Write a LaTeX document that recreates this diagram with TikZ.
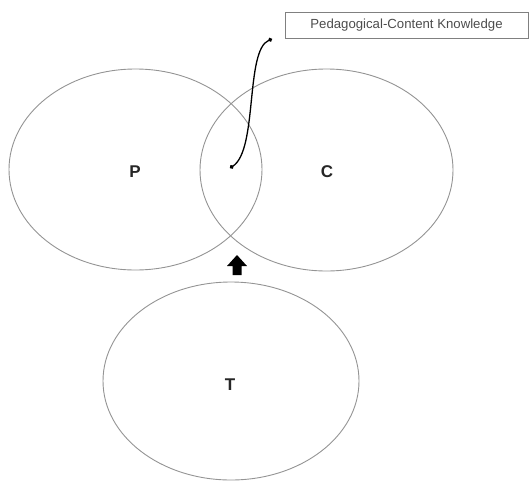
\documentclass[tikz,border=0pt]{standalone}
\usepackage{fontspec}
\setmainfont{Liberation Sans}
\usetikzlibrary{arrows.meta}
\begin{document}
\begin{tikzpicture}[x=1pt,y=-1pt,
  circ/.style={draw=black!42,line width=0.9pt},
  lbl/.style={font=\fontsize{17}{17}\selectfont\bfseries,text=black!85},
  pck/.style={draw=black!50,line width=0.6pt,minimum width=243pt,minimum height=26pt,inner sep=0pt,font=\fontsize{13.2}{14}\selectfont,text=black!70},
  link/.style={line width=1.3pt,{Circle[length=4pt]}-{Circle[length=4pt]}}]
\useasboundingbox (0,0) rectangle (529,482);
\draw[circ] (135.5,169.5) ellipse (126.5 and 100.5);
\draw[circ] (326.5,170) ellipse (126.5 and 101);
\draw[circ] (231,381) ellipse (128 and 99);
\node[lbl] (P) at (135,172) {P};
\node[lbl] (C) at (327,172) {C};
\node[lbl] (T) at (230,385) {T};
\node[pck] (box) at (406.5,25) {Pedagogical-Content Knowledge};
\coordinate (s) at (272,39);
\coordinate (e) at (230,168);
\draw[link] (s) .. controls (245,50) and (258,150) .. (e);
\fill[black] (237,255) -- (247,266) -- (241.5,266) -- (241.5,275) -- (232.5,275) -- (232.5,266) -- (227,266) -- cycle;
\end{tikzpicture}
\end{document}
